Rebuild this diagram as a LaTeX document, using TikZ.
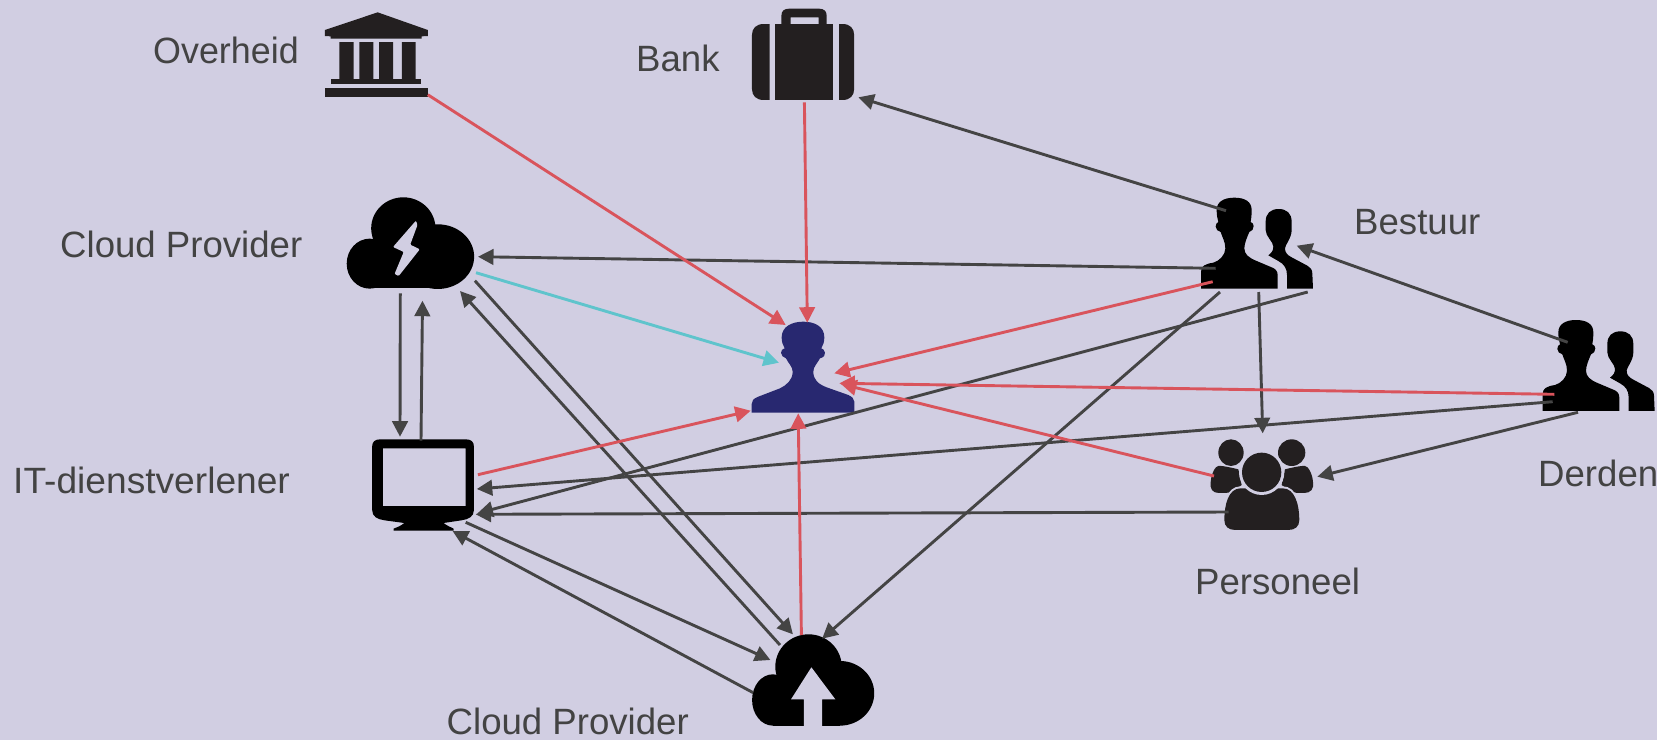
\documentclass[tikz,border=0pt]{standalone}
\usepackage{fontspec}
\setmainfont{Liberation Sans}
\usetikzlibrary{arrows.meta}
\definecolor{bgc}{RGB}{209,206,226}
\definecolor{ink}{RGB}{35,31,32}
\definecolor{navy}{RGB}{40,40,112}
\definecolor{txt}{RGB}{67,67,67}
\definecolor{linegrey}{RGB}{68,68,68}
\definecolor{redl}{RGB}{217,84,92}
\definecolor{cyanl}{RGB}{95,196,204}
\tikzset{
  lbl/.style={anchor=base west,inner sep=0pt,text=txt,font=\fontsize{36.6pt}{40pt}\selectfont},
  iconbox/.style={inner sep=0pt,draw=none,fill=none},
  conn/.style={line width=2.9pt,-{Triangle[length=15.5pt,width=15.5pt]},shorten >=0pt},
  greyc/.style={conn,draw=linegrey},
  redc/.style={conn,draw=redl},
  cyanc/.style={conn,draw=cyanl},
  zoomA/.style={shift={(300pt,0pt)},x=0.3827pt,y=-0.3333pt},
  zoomB/.style={shift={(1150pt,-180pt)},x=0.3333pt,y=-0.3333pt},
  zoomC/.style={shift={(340pt,-400pt)},x=0.3571pt,y=-0.3333pt},
  zoomD/.style={shift={(720pt,-300pt)},x=0.3333pt,y=-0.3333pt},
}
\newcommand{\duo}{%
  \fill[black] (383,326) -- (383,285) .. controls (383,272) and (375,266) .. (365,262) -- (320,243) .. controls (295,233) and (283,222) .. (283,205) .. controls (283,190) and (292,170) .. (298,156) .. controls (306,154) and (311,147) .. (311,138) .. controls (311,132) and (307,128) .. (302,126) .. controls (304,115) and (305,105) .. (305,90) .. controls (305,65) and (285,53) .. (253,53) .. controls (222,53) and (200,65) .. (200,90) .. controls (200,105) and (202,115) .. (205,126) .. controls (200,128) and (197,133) .. (197,140) .. controls (197,148) and (204,154) .. (212,156) .. controls (216,170) and (226,185) .. (226,205) .. controls (226,225) and (208,243) .. (190,248) .. controls (165,252) and (153,258) .. (153,275) -- (153,326) -- cycle;
  \fill[black] (489,326) -- (487,280) .. controls (487,268) and (480,262) .. (472,257) -- (425,232) .. controls (412,225) and (405,218) .. (405,205) .. controls (405,195) and (425,175) .. (425,150) -- (425,125) .. controls (425,100) and (410,87) .. (386,87) .. controls (362,87) and (347,100) .. (347,125) -- (347,150) .. controls (347,170) and (370,185) .. (370,200) .. controls (370,212) and (365,218) .. (355,226) -- (385,243) .. controls (402,252) and (411,265) .. (411,285) -- (411,326) -- cycle;
}
\begin{document}
\begin{tikzpicture}[x=1pt,y=-1pt]
\useasboundingbox (0,0) rectangle (1657,740);
\fill[bgc] (0,0) rectangle (1657,740);

% ---------- icons ----------
% Overheid
\begin{scope}[zoomA]
  \fill[ink] (203,37) -- (334,90) -- (334,108) -- (318,109) -- (318,116) -- (80,116) -- (80,109) -- (65,108) -- (65,90) -- cycle;
  \fill[ink] (103,126) rectangle (140,237) (155,126) rectangle (192,237) (207,126) rectangle (243,237) (266,126) rectangle (302,237);
  \fill[ink] (81,237) rectangle (317,252);
  \fill[ink] (65,263) rectangle (334,290);
  % Bank
  \fill[ink] (1241,72) rectangle (1393,300);
  \fill[ink] (1227,72) -- (1212,72) .. controls (1192,72) and (1181,85) .. (1181,105) -- (1181,267) .. controls (1181,287) and (1192,300) .. (1212,300) -- (1227,300) -- cycle;
  \fill[ink] (1409,72) -- (1418,72) .. controls (1437,72) and (1448,85) .. (1448,105) -- (1448,267) .. controls (1448,287) and (1437,300) .. (1418,300) -- (1409,300) -- cycle;
  \fill[ink,even odd rule] (1258,72) -- (1258,46) .. controls (1258,33) and (1265,26) .. (1278,26) -- (1356,26) .. controls (1369,26) and (1376,33) .. (1376,46) -- (1376,72) -- cycle (1282,52) rectangle (1355,72);
  % Cloud with lightning
  \fill[black] (270,685) ellipse [x radius=84,y radius=93];
  \fill[black] (182,791) ellipse [x radius=60,y radius=75];
  \fill[black] (360,770) ellipse [x radius=95,y radius=97];
  \fill[black] (180,770) rectangle (365,865);
  \fill[bgc,rounded corners=1pt] (303,662) -- (243,741) -- (271,756) -- (247,822) -- (258,828) -- (313,748) -- (288,734) -- (307,675) -- cycle;
\end{scope}
% Cloud with arrow, monitor
\begin{scope}[zoomC]
  \fill[black] (1312,800) ellipse [x radius=93,y radius=97];
  \fill[black] (1212,900) ellipse [x radius=58,y radius=77];
  \fill[black] (1400,880) ellipse [x radius=96,y radius=97];
  \fill[black] (1212,850) rectangle (1400,977);
  \fill[bgc] (1320,802) -- (1387,898) -- (1350,898) -- (1350,985) -- (1299,985) -- (1299,898) -- (1263,898) -- cycle;
  \fill[black,even odd rule] (112,118) -- (353,118) .. controls (368,118) and (375,126) .. (375,140) -- (375,330) .. controls (375,350) and (360,358) .. (340,361) -- (290,369) .. controls (300,378) and (312,382) .. (318,386) -- (318,392) -- (150,392) -- (150,386) .. controls (160,382) and (170,378) .. (180,369) -- (125,361) .. controls (105,358) and (90,350) .. (90,330) -- (90,140) .. controls (90,126) and (97,118) .. (112,118) -- cycle (120,145) rectangle (352,318);
\end{scope}
% central person
\begin{scope}[zoomD]
  \fill[navy] (403,338) -- (403,305) .. controls (403,295) and (395,290) .. (385,285) -- (320,262) .. controls (295,252) and (280,240) .. (280,215) .. controls (280,200) and (292,190) .. (300,175) .. controls (312,172) and (316,165) .. (315,158) .. controls (314,150) and (308,146) .. (304,145) .. controls (310,135) and (313,125) .. (313,112) .. controls (313,80) and (285,65) .. (250,65) .. controls (215,65) and (185,80) .. (185,112) .. controls (185,125) and (188,135) .. (194,145) .. controls (188,147) and (183,150) .. (183,158) .. controls (183,167) and (190,172) .. (198,175) .. controls (205,190) and (218,200) .. (218,215) .. controls (218,240) and (200,255) .. (180,265) -- (115,290) .. controls (100,296) and (95,302) .. (95,312) -- (95,338) -- cycle;
\end{scope}
% Bestuur, Derden, Personeel
\begin{scope}[zoomB]
  \duo
  \begin{scope}[shift={(341.67pt,-122.33pt)}]
    \duo
  \end{scope}
  \fill[ink] (243,818) ellipse [x radius=38,y radius=40];
  \fill[ink] (425,818) ellipse [x radius=41,y radius=40];
  \fill[ink] plot[smooth,tension=.5] coordinates {(265,868) (205,858) (186,885) (182,920) (195,937) (240,937) (275,915)} -- cycle;
  \fill[ink] plot[smooth,tension=.5] coordinates {(405,868) (465,858) (485,885) (489,920) (475,937) (430,937) (395,915)} -- cycle;
  \def\bodypath{(223,1020) .. controls (223,975) and (235,925) .. (272,925) -- (398,925) .. controls (435,925) and (448,975) .. (448,1020) .. controls (448,1040) and (435,1050) .. (415,1050) -- (256,1050) .. controls (236,1050) and (223,1040) .. (223,1020) -- cycle}
  \draw[bgc,line width=4pt] \bodypath;
  \fill[ink] \bodypath;
  \fill[bgc] (335,877) circle [radius=68];
  \fill[ink] (335,877) circle [radius=59];
\end{scope}

% ---------- invisible icon nodes ----------
\node[iconbox,minimum width=103pt,minimum height=85pt] (overheid) at (376,54) {};
\node[iconbox,minimum width=102pt,minimum height=92pt] (bank) at (803,54) {};
\node[iconbox,minimum width=127pt,minimum height=91pt] (cloudA) at (410,243) {};
\node[iconbox,minimum width=122pt,minimum height=91pt] (cloudB) at (813,680) {};
\node[iconbox,minimum width=102pt,minimum height=91pt] (monitor) at (423,485) {};
\node[iconbox,minimum width=103pt,minimum height=91pt] (person) at (803,367) {};
\node[iconbox,minimum width=112pt,minimum height=91pt] (bestuur) at (1257,243) {};
\node[iconbox,minimum width=112pt,minimum height=91pt] (derden) at (1598,365) {};
\node[iconbox,minimum width=103pt,minimum height=92pt] (personeel) at (1262,484) {};

% ---------- labels ----------
\node[lbl] (lOverheid) at (153,63.5) {\scalebox{0.98}[1]{Overheid}};
\node[lbl] (lBank) at (636,71.7) {Bank};
\node[lbl] (lCloudA) at (60,257) {Cloud Provider};
\node[lbl] (lBestuur) at (1354,234) {Bestuur};
\node[lbl] (lDerden) at (1538,486.7) {Derden};
\node[lbl] (lPersoneel) at (1195,594) {Personeel};
\node[lbl] (lIT) at (13,493.5) {\scalebox{1.015}[1]{IT-dienstverlener}};
\node[lbl] (lCloudB) at (446.5,734.5) {Cloud Provider};

% ---------- connector ends ----------
\coordinate (o1) at (427.8,94.7);   \coordinate (p1) at (785.7,325);
\coordinate (o2) at (804.4,102.3);  \coordinate (p2) at (807.3,322.7);
\coordinate (o3) at (476,272.7);    \coordinate (p3) at (779,362.7);
\coordinate (o4) at (1212.7,281.7); \coordinate (p4) at (834.3,373.3);
\coordinate (o5) at (1554.3,394.3); \coordinate (p5) at (839.3,383.3);
\coordinate (o6) at (1214,476);     \coordinate (p6) at (841,384);
\coordinate (o7) at (477.9,474.7);  \coordinate (p7) at (750.7,410.7);
\coordinate (o8) at (801.4,635);    \coordinate (p8) at (798.2,413.3);
\coordinate (a9) at (1226,210.7);   \coordinate (b9) at (858.4,97.3);
\coordinate (a10) at (1215.7,268.3);\coordinate (b10) at (478,256.7);
\coordinate (a11) at (1258.7,292);  \coordinate (b11) at (1262.7,433.3);
\coordinate (a12) at (1307.7,292);  \coordinate (b12) at (477.5,513.3);
\coordinate (a13) at (1220,292);    \coordinate (b13) at (822.1,638.7);
\coordinate (a14) at (1567.7,342.3);\coordinate (b14) at (1296.7,245.7);
\coordinate (a15) at (1578,412.3);  \coordinate (b15) at (1317.3,476.7);
\coordinate (a16) at (1552.7,401.7);\coordinate (b16) at (476.8,489);
\coordinate (a17) at (1228.7,512);  \coordinate (b17) at (475.7,514.3);
\coordinate (a18) at (400.3,293.3); \coordinate (b18) at (400,436.7);
\coordinate (a19) at (421,440.7);   \coordinate (b19) at (422.5,300.7);
\coordinate (a20) at (474.9,280.7); \coordinate (b20) at (792.9,634.3);
\coordinate (a21) at (780,645);     \coordinate (b21) at (460,291);
\coordinate (a22) at (465.7,522.3); \coordinate (b22) at (770.4,660);
\coordinate (a23) at (753.2,692.7); \coordinate (b23) at (452.5,531);

% ---------- connectors ----------
\draw[greyc] (a9) -- (b9);
\draw[greyc] (a10) -- (b10);
\draw[greyc] (a11) -- (b11);
\draw[greyc] (a12) -- (b12);
\draw[greyc] (a13) -- (b13);
\draw[greyc] (a14) -- (b14);
\draw[greyc] (a15) -- (b15);
\draw[greyc] (a16) -- (b16);
\draw[greyc] (a17) -- (b17);
\draw[greyc] (a18) -- (b18);
\draw[greyc] (a19) -- (b19);
\draw[greyc] (a20) -- (b20);
\draw[greyc] (a21) -- (b21);
\draw[greyc] (a22) -- (b22);
\draw[greyc] (a23) -- (b23);
\draw[redc] (o1) -- (p1);
\draw[redc] (o2) -- (p2);
\draw[cyanc] (o3) -- (p3);
\draw[redc] (o4) -- (p4);
\draw[redc] (o5) -- (p5);
\draw[redc] (o6) -- (p6);
\draw[redc] (o7) -- (p7);
\draw[redc] (o8) -- (p8);
\end{tikzpicture}
\end{document}
